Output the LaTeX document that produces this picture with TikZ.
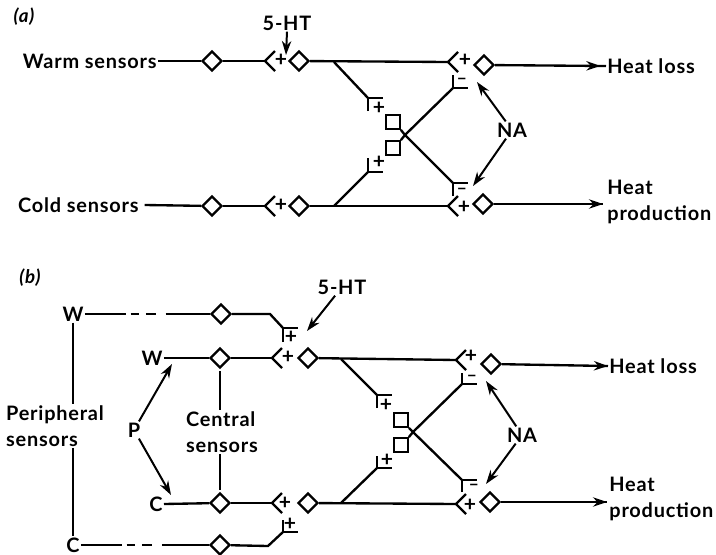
\documentclass[tikz,border=0pt]{standalone}
\usepackage{fontspec}
\setmainfont[LetterSpace=4]{Lato}
\usepackage{tikz}
\usetikzlibrary{arrows.meta,decorations.markings,positioning,shapes.geometric}
\tikzset{
  relay/.style={draw, shape=diamond, minimum width=17pt, minimum height=17pt, inner sep=0pt, line width=2pt},
  interbox/.style={draw, rectangle, minimum size=11.5pt, inner sep=0pt, line width=2pt},
  signlabel/.style={inner sep=0pt, font=\bfseries\fontsize{18}{18}\selectfont},
  minuslabel/.style={inner sep=0pt, font=\bfseries\fontsize{14}{14}\selectfont},
  wordlabel/.style={inner sep=1pt, align=left, font=\bfseries\fontsize{17}{22}\selectfont},
  panellabel/.style={inner sep=1pt, font=\bfseries\itshape\fontsize{16}{16}\selectfont},
  fibre/.style={line width=2pt},
  brokenfibre/.style={fibre, dash pattern=on 35pt off 4pt on 7pt off 6pt on 9pt off 8pt on 60pt},
  drugarrow/.style={line width=1.7pt, -{Stealth[length=12pt,width=8pt]}},
  outarrow/.style={fibre, postaction={decorate}, decoration={markings,
    mark=at position #1 with {\arrow{Stealth[length=12pt,width=8pt]}}}},
}
% Open ending of an excitatory synapse, with its tip at the named coordinate.
\newcommand{\synopen}[1]{%
  \draw[fibre] ([shift={(10,-10)}]#1) -- (#1) -- ([shift={(10,10)}]#1);
}
% Corner of a bar ending; #2 is the length of its short side, up or down.
\newcommand{\synbar}[2]{%
  \draw[fibre] ([shift={(0,#2)}]#1) -- (#1) -- ([shift={(15,0)}]#1);
}
\begin{document}
\begin{tikzpicture}[x=0.03cm,y=-0.03cm]
  \useasboundingbox (0,0) rectangle (716,555);

  % Panel (a).
  \node[panellabel] (panela) at (24,17) {(a)};
  \node[wordlabel, anchor=east] (warma) at (158,61) {Warm sensors};
  \node[wordlabel, anchor=east] (colda) at (140,205) {Cold sensors};
  \node[wordlabel, anchor=west] (lossa) at (606,66) {Heat loss};
  \node[wordlabel, anchor=west] (proda) at (606,202) {Heat\\production};
  \node[wordlabel] (hta) at (287,23) {5-HT};
  \node[wordlabel] (naa) at (512,130) {NA};

  \node[relay] (wa1) at (212,61) {};
  \node[relay] (wa2) at (299,61) {};
  \node[relay] (wa3) at (484,65) {};
  \node[relay] (ca1) at (212,206) {};
  \node[relay] (ca2) at (299,206) {};
  \node[relay] (ca3) at (483,204) {};
  \node[interbox] (boxa1) at (393,122) {};
  \node[interbox] (boxa2) at (393,148) {};

  \node[signlabel] (pa1) at (281,60) {+};
  \node[signlabel] (pa2) at (465,60) {+};
  \node[signlabel] (pa3) at (281,205) {+};
  \node[signlabel] (pa4) at (464,207) {+};
  \node[signlabel] (pa5) at (379,108) {+};
  \node[signlabel] (pa6) at (379,162) {+};
  \node[minuslabel] (ma1) at (462,81) {−};
  \node[minuslabel] (ma2) at (462,191) {−};

  \coordinate (taw) at (265,61);
  \coordinate (tab) at (448,62);
  \coordinate (tac) at (265,206);
  \coordinate (tad) at (448,206);
  \coordinate (joina1) at (334,62);
  \coordinate (joina2) at (334,206);
  \coordinate (crossa) at (405,135);
  \coordinate (bara1) at (368,98);
  \coordinate (bara2) at (368,172);
  \coordinate (bara3) at (453,88);
  \coordinate (bara4) at (453,183);
  \coordinate (enda) at (603,204);
  \coordinate (drugtipa) at (286,55);
  \coordinate (natipa1) at (477,82);
  \coordinate (natipa2) at (473,186);

  \synopen{taw}
  \synopen{tab}
  \synopen{tac}
  \synopen{tad}
  \synbar{bara1}{13}
  \synbar{bara2}{-14}
  \synbar{bara3}{-13}
  \synbar{bara4}{13}

  \draw[fibre] (warma.east) -- (wa1);
  \draw[fibre] (wa1) -- (taw);
  \draw[fibre] (wa2) -- (tab);
  \draw[outarrow=.95] (wa3) -- (lossa.west);
  \draw[fibre] ([xshift=4pt]colda.east) -- (ca1);
  \draw[fibre] (ca1) -- (tac);
  \draw[fibre] (ca2) -- (tad);
  \draw[outarrow=1] (ca3) -- (enda);
  \draw[fibre] (joina1) -- (bara1);
  \draw[fibre] (joina2) -- (bara2);
  \draw[fibre] (boxa1.south east) -- (crossa) -- (bara4);
  \draw[fibre] (boxa2.north east) -- (crossa) -- (bara3);
  \draw[drugarrow] (hta.south) -- (drugtipa);
  \draw[drugarrow] (naa) -- (natipa1);
  \draw[drugarrow] (naa) -- (natipa2);

  % Panel (b).
  \node[panellabel] (panelb) at (30,278) {(b)};
  \node[wordlabel] (wper) at (73,314) {W};
  \node[wordlabel] (cper) at (73,545) {C};
  \node[wordlabel] (wcen) at (152,358) {W};
  \node[wordlabel] (ccen) at (156,504) {C};
  \node[wordlabel] (plabel) at (134,430) {P};
  \node[wordlabel] (perlabel) at (55,426) {Peripheral\\sensors};
  \node[wordlabel] (cenlabel) at (222,432) {Central\\sensors};
  \node[wordlabel, anchor=west] (lossb) at (608,366) {Heat loss};
  \node[wordlabel, anchor=west] (prodb) at (608,499) {Heat\\production};
  \node[wordlabel] (htb) at (342,287) {5-HT};
  \node[wordlabel] (nab) at (522,435) {NA};

  \node[relay] (pb1) at (221,314) {};
  \node[relay] (wb1) at (220,358) {};
  \node[relay] (wb2) at (308,358) {};
  \node[relay] (wb3) at (491,364) {};
  \node[relay] (cb1) at (220,503) {};
  \node[relay] (cb2) at (308,503) {};
  \node[relay] (cb3) at (490,502) {};
  \node[relay] (pb2) at (220,545) {};
  \node[interbox] (boxb1) at (401,420) {};
  \node[interbox] (boxb2) at (401,445) {};

  \node[signlabel] (pb3) at (291,337) {+};
  \node[signlabel] (pb4) at (288,357) {+};
  \node[signlabel] (pb5) at (285,503) {+};
  \node[signlabel] (pb6) at (290,524) {+};
  \node[signlabel] (pb7) at (471,356) {+};
  \node[signlabel] (pb8) at (470,505) {+};
  \node[signlabel] (pb9) at (386,405) {+};
  \node[signlabel] (pb10) at (387,460) {+};
  \node[minuslabel] (mb1) at (472,378) {−};
  \node[minuslabel] (mb2) at (474,487) {−};

  \coordinate (tbw) at (272,358);
  \coordinate (tbb) at (456,360);
  \coordinate (tbc) at (272,503);
  \coordinate (tbd) at (456,504);
  \coordinate (bendb1) at (270,314);
  \coordinate (bendb2) at (268,546);
  \coordinate (joinb1) at (341,359);
  \coordinate (joinb2) at (341,503);
  \coordinate (crossb) at (413,432);
  \coordinate (barb1) at (283,328);
  \coordinate (barb2) at (283,532);
  \coordinate (barb3) at (377,395);
  \coordinate (barb4) at (377,468);
  \coordinate (barb5) at (462,384);
  \coordinate (barb6) at (462,480);
  \coordinate (endb) at (607,502);
  \coordinate (drugtipb) at (307,331);
  \coordinate (natipb1) at (486,381);
  \coordinate (natipb2) at (486,484);
  \coordinate (ptipb1) at (172,364);
  \coordinate (ptipb2) at (171,495);

  \synopen{tbw}
  \synopen{tbb}
  \synopen{tbc}
  \synopen{tbd}
  \synbar{barb1}{14}
  \synbar{barb2}{-12}
  \synbar{barb3}{13}
  \synbar{barb4}{-12}
  \synbar{barb5}{-11}
  \synbar{barb6}{12}

  \draw[brokenfibre] (wper.east) -- (pb1);
  \draw[fibre] (pb1) -- (bendb1) -- (barb1);
  \draw[brokenfibre] (cper.east) -- (pb2);
  \draw[fibre] (pb2) -- (bendb2) -- (barb2);
  \draw[fibre] (wper.south) -- (wper |- perlabel.north);
  \draw[fibre] (wper |- perlabel.south) -- (cper.north);
  \draw[fibre] (wcen.east) -- (wb1);
  \draw[fibre] (wb1) -- (tbw);
  \draw[fibre] (wb2) -- (tbb);
  \draw[outarrow=1] (wb3) -- (lossb.west);
  \draw[fibre] (ccen.east) -- (cb1);
  \draw[fibre] (cb1) -- (tbc);
  \draw[fibre] (cb2) -- (tbd);
  \draw[outarrow=1] (cb3) -- (endb);
  \draw[fibre] ([yshift=-2pt]wb1.south) -- (wb1 |- cenlabel.north);
  \draw[fibre] (wb1 |- cenlabel.south) -- ([yshift=2pt]cb1.north);
  \draw[fibre] (joinb1) -- (barb3);
  \draw[fibre] (joinb2) -- (barb4);
  \draw[fibre] (boxb1.south east) -- (crossb) -- (barb6);
  \draw[fibre] (boxb2.north east) -- (crossb) -- (barb5);
  \draw[drugarrow] (htb) -- (drugtipb);
  \draw[drugarrow] (nab) -- (natipb1);
  \draw[drugarrow] (nab) -- (natipb2);
  \draw[drugarrow] (plabel) -- (ptipb1);
  \draw[drugarrow] (plabel) -- (ptipb2);
\end{tikzpicture}
\end{document}
